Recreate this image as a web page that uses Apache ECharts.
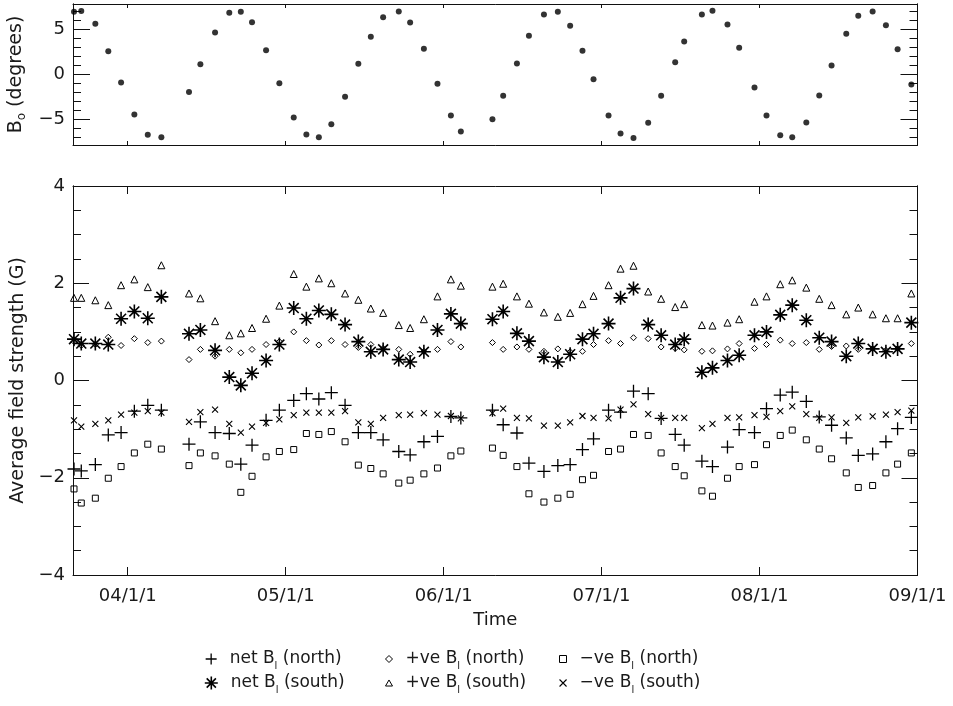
<!DOCTYPE html>
<html><head><meta charset="utf-8">
<script src="https://cdn.jsdelivr.net/npm/echarts@6/dist/echarts.min.js"></script>
<style>html,body{margin:0;padding:0;background:#fff}#c{width:953px;height:706px}</style>
</head><body><div id="c"></div>
<script>
// ---- data (fractional years) ----
const times = [2003.660,2003.706,2003.795,2003.877,2003.958,2004.042,2004.127,2004.213,
  2004.388,2004.460,2004.553,2004.643,2004.716,2004.787,2004.876,2004.960,2005.051,2005.131,
  2005.210,2005.289,2005.376,2005.460,2005.539,2005.617,2005.716,2005.788,2005.875,2005.961,
  2006.046,2006.109,
  2006.309,2006.377,2006.464,2006.540,2006.635,2006.723,2006.801,2006.879,2006.949,2007.044,
  2007.120,2007.202,2007.295,2007.377,2007.466,2007.523,2007.635,2007.702,2007.797,2007.871,
  2007.968,2008.044,2008.131,2008.207,2008.296,2008.378,2008.456,2008.549,2008.625,2008.716,
  2008.800,2008.874,2008.961];
const b0 = [6.96,7.04,5.63,2.59,-0.89,-4.44,-6.70,-6.96,
  -1.93,1.15,4.67,6.85,6.96,5.81,2.70,-0.96,-4.78,-6.67,-6.96,-5.52,-2.48,1.19,4.19,6.37,7.0,5.78,2.85,-1.04,-4.56,-6.33,
  -4.96,-2.37,1.22,4.30,6.67,6.96,5.41,2.63,-0.52,-4.56,-6.56,-7.04,-5.37,-2.37,1.37,3.67,6.67,7.07,5.56,2.96,-1.44,
  -4.56,-6.74,-6.96,-5.33,-2.33,1.0,4.52,6.52,7.0,5.48,2.81,-1.11];
const netNorth = [-1.82,-1.86,-1.73,-1.12,-1.07,-0.63,-0.51,-0.61,
  -1.31,-0.85,-1.07,-1.09,-1.72,-1.33,-0.82,-0.61,-0.41,-0.27,-0.38,-0.25,-0.51,-1.07,-1.07,-1.22,-1.46,-1.53,-1.26,-1.15,-0.74,-0.77,
  -0.61,-0.91,-1.08,-1.70,-1.87,-1.75,-1.73,-1.42,-1.20,-0.61,-0.65,-0.22,-0.27,-0.78,-1.11,-1.33,-1.66,-1.77,-1.37,-1.01,
  -1.07,-0.58,-0.30,-0.24,-0.43,-0.75,-0.92,-1.18,-1.54,-1.51,-1.26,-0.99,-0.76];
const netSouth = [0.85,0.76,0.76,0.74,1.27,1.42,1.28,1.72,
  0.96,1.04,0.62,0.07,-0.10,0.15,0.41,0.74,1.49,1.27,1.44,1.36,1.15,0.80,0.59,0.64,0.43,0.38,0.59,1.04,1.37,1.17,
  1.26,1.42,0.97,0.81,0.48,0.38,0.54,0.85,0.96,1.17,1.70,1.89,1.15,0.93,0.74,0.85,0.17,0.26,0.41,0.52,
  0.93,1.00,1.35,1.55,1.24,0.88,0.80,0.50,0.76,0.65,0.59,0.65,1.19];
const posNorth = [0.80,0.72,0.74,0.89,0.72,0.86,0.78,0.81,
  0.43,0.64,0.50,0.64,0.57,0.64,0.74,0.80,1.00,0.82,0.73,0.82,0.74,0.68,0.74,0.66,0.64,0.54,0.60,0.64,0.80,0.69,
  0.78,0.64,0.69,0.64,0.60,0.65,0.59,0.60,0.74,0.82,0.76,0.88,0.86,0.69,0.66,0.63,0.60,0.61,0.65,0.76,
  0.66,0.74,0.83,0.76,0.78,0.64,0.70,0.71,0.64,0.66,0.62,0.66,0.76];
const posSouth = [1.70,1.70,1.65,1.55,1.96,2.08,1.92,2.37,
  1.79,1.69,1.22,0.93,0.97,1.08,1.27,1.54,2.19,1.93,2.10,2.00,1.79,1.66,1.48,1.39,1.14,1.08,1.26,1.73,2.08,1.95,
  1.93,1.99,1.73,1.58,1.40,1.31,1.39,1.57,1.74,1.96,2.30,2.36,1.83,1.68,1.51,1.57,1.14,1.13,1.19,1.26,
  1.62,1.73,1.98,2.06,1.91,1.68,1.55,1.36,1.50,1.36,1.28,1.28,1.79];
const negNorth = [-2.23,-2.52,-2.42,-2.01,-1.77,-1.49,-1.31,-1.41,
  -1.75,-1.49,-1.55,-1.72,-2.30,-1.97,-1.57,-1.46,-1.42,-1.09,-1.11,-1.05,-1.26,-1.74,-1.81,-1.92,-2.11,-2.05,-1.92,-1.80,-1.55,-1.45,
  -1.39,-1.54,-1.77,-2.33,-2.50,-2.42,-2.34,-2.04,-1.95,-1.46,-1.41,-1.11,-1.13,-1.49,-1.77,-1.96,-2.27,-2.38,-2.01,-1.77,
  -1.73,-1.32,-1.13,-1.02,-1.22,-1.41,-1.61,-1.90,-2.20,-2.16,-1.90,-1.72,-1.49];
const negSouth = [-0.82,-0.95,-0.89,-0.82,-0.70,-0.66,-0.63,-0.66,
  -0.85,-0.65,-0.60,-0.89,-1.07,-0.95,-0.87,-0.80,-0.71,-0.66,-0.66,-0.66,-0.63,-0.86,-0.89,-0.77,-0.71,-0.70,-0.67,-0.70,-0.73,-0.78,
  -0.67,-0.58,-0.77,-0.78,-0.93,-0.93,-0.86,-0.73,-0.77,-0.78,-0.60,-0.49,-0.69,-0.77,-0.77,-0.77,-0.98,-0.89,-0.77,-0.76,
  -0.71,-0.75,-0.63,-0.53,-0.69,-0.77,-0.76,-0.87,-0.76,-0.74,-0.70,-0.65,-0.62];

const yearTicks = [2004, 2005, 2006, 2007, 2008, 2009];
const yearLabels = ['04/1/1', '05/1/1', '06/1/1', '07/1/1', '08/1/1', '09/1/1'];
const b0MajorTicks = [-5, 0, 5];
const b0MinorTicks = [-7, -6, -4, -3, -2, -1, 1, 2, 3, 4, 6, 7];
const fieldMajorTicks = [-4, -2, 0, 2, 4];
const fieldMinorTicks = [-3.5, -3, -2.5, -1.5, -1, -0.5, 0.5, 1, 1.5, 2.5, 3, 3.5];
const seriesNames = ['net B_l (north)', 'net B_l (south)', '+ve B_l (north)', '+ve B_l (south)', '\u2212ve B_l (north)', '\u2212ve B_l (south)'];

// ---- chart ----
const FONT = 'DejaVu Sans';
const TXT = '#1a1a1a';
const LINE = '#111';
const xMin = 2003.6536, xMax = 2009.0;
const b0Lim = 7.83;
const pair = arr => times.map((t, i) => [t, arr[i]]);
const fmtNum = v => (v < 0 ? '\u2212' + Math.abs(v) : String(v));
const rich = { s: { fontSize: 10, fontFamily: FONT, color: TXT, verticalAlign: 'bottom', lineHeight: 12 } };

function xAx(grid, pos, tickLen, labels) {
  return {
    type: 'value', gridIndex: grid, position: pos, min: xMin, max: xMax,
    axisLine: { show: true, onZero: false, lineStyle: { color: LINE, width: 1 } },
    axisTick: { show: true, inside: true, length: tickLen, customValues: yearTicks, lineStyle: { color: LINE } },
    axisLabel: labels ? {
      show: true, customValues: yearTicks, margin: 12, fontFamily: FONT, fontSize: 18, color: TXT,
      formatter: v => yearLabels[yearTicks.indexOf(Math.round(v))]
    } : { show: false },
    splitLine: { show: false }
  };
}
function yAx(grid, pos, min, max, ticks, tickLen, labels, extra) {
  return Object.assign({
    type: 'value', gridIndex: grid, position: pos, min: min, max: max,
    axisLine: { show: true, onZero: false, lineStyle: { color: LINE, width: 1 } },
    axisTick: { show: true, inside: true, length: tickLen, customValues: ticks, lineStyle: { color: LINE } },
    axisLabel: labels ? { show: true, customValues: ticks, margin: 8, fontFamily: FONT, fontSize: 18, color: TXT, formatter: fmtNum } : { show: false },
    splitLine: { show: false }
  }, extra || {});
}

const P = {
  plus: 'path://M0,5L10,5M5,0L5,10',
  star: 'path://M0,5L10,5M5,0L5,10M1.46,1.46L8.54,8.54M1.46,8.54L8.54,1.46',
  diamond: 'path://M5,0L10,5L5,10L0,5Z',
  tri: 'path://M5,0L10,8.66L0,8.66Z',
  square: 'path://M0,0L10,0L10,10L0,10Z',
  cross: 'path://M0,0L10,10M0,10L10,0'
};
function sc(name, arr, sym, size, bw) {
  return {
    type: 'scatter', name: name, xAxisIndex: 2, yAxisIndex: 4, data: pair(arr),
    symbol: sym, symbolSize: size,
    itemStyle: { color: 'rgba(0,0,0,0)', borderColor: '#000', borderWidth: bw, opacity: 1 }
  };
}
function lg(name, left, top, size, bw) {
  return {
    data: [name], left: left, top: top, padding: 0, itemWidth: size, itemHeight: size,
    selectedMode: false, orient: 'horizontal',
    itemStyle: { color: 'rgba(0,0,0,0)', borderColor: '#000', borderWidth: bw },
    textStyle: { fontFamily: FONT, fontSize: 17, color: TXT, lineHeight: 24, padding: [0, 0, 0, 8], rich: rich },
    formatter: n => n.replace('_l', '{s|l}')
  };
}

const chart = echarts.init(document.getElementById('c'));
chart.setOption({
  animation: false,
  grid: [
    { left: 73, top: 4, width: 844.5, height: 141, outerBoundsMode: 'none' },
    { left: 73, top: 186, width: 844.5, height: 389, outerBoundsMode: 'none' }
  ],
  xAxis: [
    xAx(0, 'bottom', 4, false),
    xAx(0, 'top', 4, false),
    Object.assign(xAx(1, 'bottom', 8, true), {
      name: 'Time', nameLocation: 'middle', nameGap: 36,
      nameTextStyle: { fontFamily: FONT, fontSize: 18, color: TXT }
    }),
    xAx(1, 'top', 8, false)
  ],
  yAxis: [
    yAx(0, 'left', -b0Lim, b0Lim, b0MajorTicks, 17, true, {
      name: 'B{s|o} (degrees)', nameLocation: 'middle', nameRotate: 90, nameGap: 33,
      nameTextStyle: { fontFamily: FONT, fontSize: 19, color: TXT, lineHeight: 24, rich: { s: { fontSize: 12, fontFamily: FONT, color: TXT, verticalAlign: 'bottom', lineHeight: 12 } } }
    }),
    yAx(0, 'right', -b0Lim, b0Lim, b0MajorTicks, 17, false),
    yAx(0, 'left', -b0Lim, b0Lim, b0MinorTicks, 8, false),
    yAx(0, 'right', -b0Lim, b0Lim, b0MinorTicks, 8, false),
    yAx(1, 'left', -4, 4, fieldMajorTicks, 16, true, {
      name: 'Average field strength (G)', nameLocation: 'middle', nameRotate: 90, nameGap: 38,
      nameTextStyle: { fontFamily: FONT, fontSize: 19, color: TXT }
    }),
    yAx(1, 'right', -4, 4, fieldMajorTicks, 16, false),
    yAx(1, 'left', -4, 4, fieldMinorTicks, 8, false),
    yAx(1, 'right', -4, 4, fieldMinorTicks, 8, false)
  ],
  legend: [
    lg(seriesNames[0], 205, 647, 11, 1.3),
    lg(seriesNames[1], 204, 671, 13, 1.6),
    lg(seriesNames[2], 385, 647, 7, 1),
    lg(seriesNames[3], 385, 671, 7, 1),
    lg(seriesNames[4], 559, 647, 7, 1),
    lg(seriesNames[5], 559, 671, 7, 1.1)
  ],
  series: [
    {
      type: 'scatter', name: 'B0', xAxisIndex: 0, yAxisIndex: 0, data: pair(b0),
      symbol: 'circle', symbolSize: 6, itemStyle: { color: '#000' }
    },
    sc(seriesNames[0], netNorth, P.plus, 13, 1.3),
    sc(seriesNames[1], netSouth, P.star, 14, 1.6),
    sc(seriesNames[2], posNorth, P.diamond, 6, 1),
    sc(seriesNames[3], posSouth, P.tri, 7, 1),
    sc(seriesNames[4], negNorth, P.square, 6, 1),
    sc(seriesNames[5], negSouth, P.cross, 6, 1.1)
  ]
});
</script>
</body></html>
